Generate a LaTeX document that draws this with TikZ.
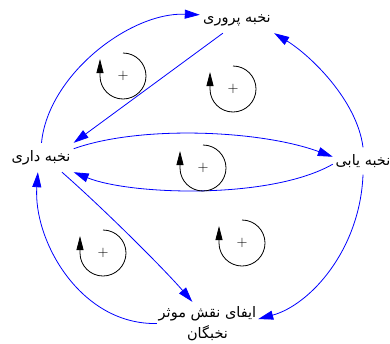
\documentclass[tikz,border=0pt]{standalone}
\usepackage{fontspec}
\newfontfamily\farsi[Script=Arabic]{DejaVu Sans}
\TeXXeTstate=1
\usetikzlibrary{arrows.meta}

\begin{document}
\begin{tikzpicture}[x=1pt, y=-1pt,
    lbl/.style={font=\farsi\fontsize{14.5}{21}\selectfont, inner sep=0pt, align=center},
    arr/.style={-{Triangle[length=15pt,width=9pt]}, blue, line width=0.8pt},
    cyc/.style={-{Triangle[length=14pt,width=7pt]}, black, line width=0.8pt}]
  \useasboundingbox (0,0) rectangle (390,343);
  % variables
  \node[lbl, minimum width=74pt, minimum height=26pt] (a) at (237,20) {\beginR نخبه پروری\endR};
  \node[lbl, minimum width=65pt, minimum height=29pt] (b) at (41,157.5) {\beginR نخبه داری\endR};
  \node[lbl, minimum width=60pt, minimum height=27pt] (c) at (363,161) {\beginR نخبه یابی\endR};
  \node[lbl, minimum width=101pt, minimum height=43pt] (d) at (207.5,323.5) {\beginR ایفای نقش موثر\endR\\\beginR نخبگان\endR};
  % links
  \draw[arr] (b.88) .. controls (48,75) and (130,12) .. (a.172);
  \draw[arr] (a.223) -- (b.north east);
  \draw[arr] (c.north) .. controls (357,100) and (310,55) .. (a.south east);
  \draw[arr] (b.15) .. controls (140,125) and (260,130) .. (c.172);
  \draw[arr] (c.186) .. controls (270,200) and (130,195) .. (b.south east);
  \draw[arr] (b.-35) .. controls (105,210) and (165,270) .. (d.125);
  \draw[arr] (c.south) .. controls (360,250) and (310,305) .. (d.5);
  \draw[arr] (d.west) .. controls (80,325) and (33,240) .. (b.-102);
  % loops
  \foreach \i/\p in {1/{(123,76)}, 2/{(233,89)}, 3/{(203,168)}, 4/{(103,253)}, 5/{(242,243)}} {
    \node[inner sep=0pt, font=\Large] (r\i) at \p {+};
    \draw[cyc] (r\i) ++(0,-23) arc[start angle=-90, end angle=180, radius=23] -- ++(0,-17);
  }
\end{tikzpicture}
\end{document}
